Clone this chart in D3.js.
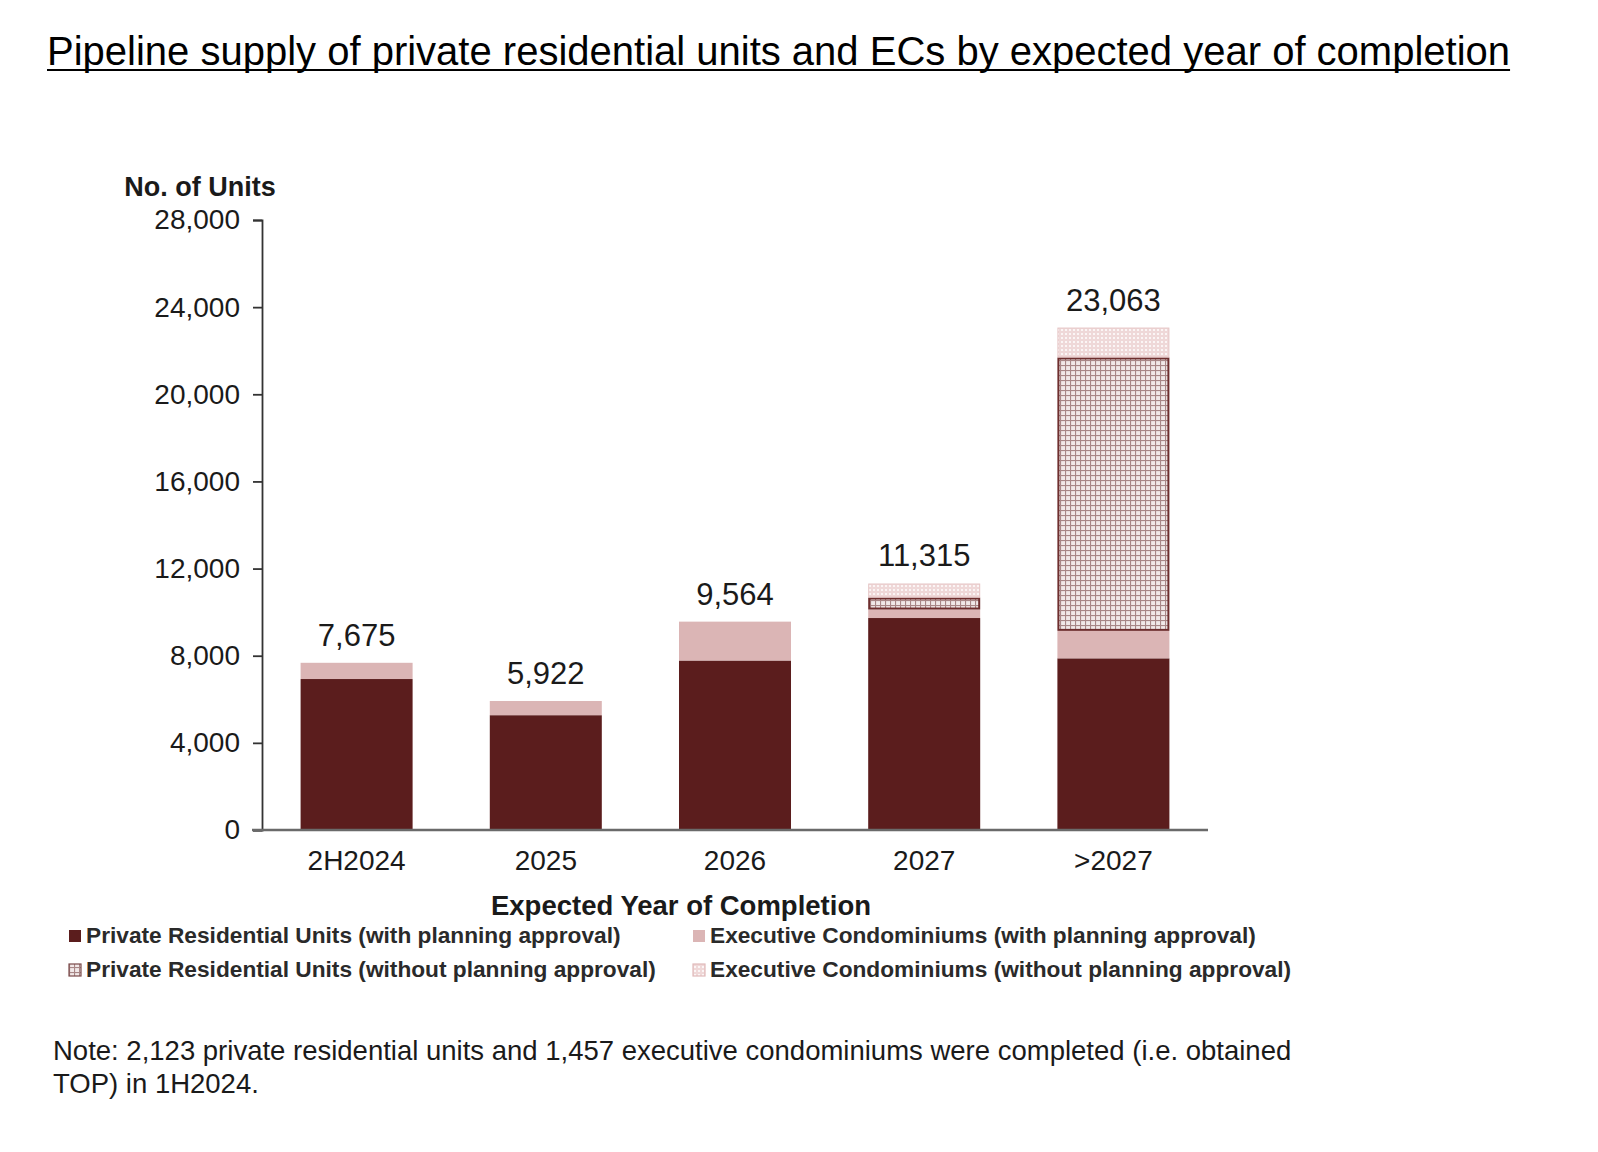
<!DOCTYPE html>
<html>
<head>
<meta charset="utf-8">
<script src="https://cdn.jsdelivr.net/npm/d3@7"></script>
<style>
  html, body { margin: 0; padding: 0; background: #ffffff; }
  svg { display: block; }
  text { font-family: "Liberation Sans", Arial, Helvetica, sans-serif; fill: #1a1a1a; }
</style>
</head>
<body>
<svg id="chart" width="1598" height="1152"></svg>
<script>
// ---- data ----
const categories = ["2H2024", "2025", "2026", "2027", ">2027"];
const privateWith = [6930, 5270, 7780, 9730, 7880];
const ecWith = [745, 652, 1784, 390, 1260];
const privateWithout = [0, 0, 0, 550, 12550];
const ecWithout = [0, 0, 0, 645, 1373];
const totals = [7675, 5922, 9564, 11315, 23063];
const yTicks = [0, 4000, 8000, 12000, 16000, 20000, 24000, 28000];
const seriesNames = [
  "Private Residential Units (with planning approval)",
  "Executive Condominiums (with planning approval)",
  "Private Residential Units (without planning approval)",
  "Executive Condominiums (without planning approval)"
];
const titleText = "Pipeline supply of private residential units and ECs by expected year of completion";
const yTitle = "No. of Units";
const xTitle = "Expected Year of Completion";
const noteLines = [
  "Note: 2,123 private residential units and 1,457 executive condominiums were completed (i.e. obtained",
  "TOP) in 1H2024."
];

// ---- setup ----
const svg = d3.select("#chart");
svg.append("rect").attr("width", 1598).attr("height", 1152).attr("fill", "#ffffff");

const defs = svg.append("defs");
// grid hatch for private units without planning approval
const p1 = defs.append("pattern").attr("id", "patPriv").attr("patternUnits", "userSpaceOnUse")
  .attr("width", 5).attr("height", 5);
p1.append("rect").attr("width", 5).attr("height", 5).attr("fill", "#f1e8e8");
p1.append("rect").attr("x", 0).attr("y", 0).attr("width", 1.1).attr("height", 5).attr("fill", "#a88686");
p1.append("rect").attr("x", 0).attr("y", 0).attr("width", 5).attr("height", 1.1).attr("fill", "#a88686");
// light dotted pattern for EC without planning approval
const p2 = defs.append("pattern").attr("id", "patEC").attr("patternUnits", "userSpaceOnUse")
  .attr("width", 4).attr("height", 4);
p2.append("rect").attr("width", 4).attr("height", 4).attr("fill", "#efd8d8");
p2.append("rect").attr("x", 1).attr("y", 1).attr("width", 2).attr("height", 2).attr("fill", "#fbf5f5");

const fills = ["#5b1d1d", "#dbb5b5", "url(#patPriv)", "url(#patEC)"];
const strokes = ["none", "none", "#6e2e2e", "#e6c6c6"];
const strokeW = [0, 0, 2, 1];

const x = d3.scaleBand().domain(categories).range([262, 1208]).paddingInner(0.408).paddingOuter(0.204);
const y = d3.scaleLinear().domain([0, 28000]).range([830, 220]);

// ---- title ----
const title = svg.append("text").attr("x", 47).attr("y", 65)
  .attr("font-size", 40).text(titleText).style("fill", "#000");
const tw = title.node().getComputedTextLength();
svg.append("line").attr("x1", 47).attr("x2", 47 + tw).attr("y1", 70).attr("y2", 70)
  .attr("stroke", "#000").attr("stroke-width", 2.2);

// ---- stacked bars ----
const rows = categories.map((c, i) => ({
  cat: c, privateWith: privateWith[i], ecWith: ecWith[i],
  privateWithout: privateWithout[i], ecWithout: ecWithout[i], total: totals[i]
}));
const keys = ["privateWith", "ecWith", "privateWithout", "ecWithout"];
const stacked = d3.stack().keys(keys)(rows);

stacked.forEach((layer, li) => {
  svg.append("g").selectAll("rect").data(layer.filter(d => d[1] - d[0] > 0)).join("rect")
    .attr("x", d => x(d.data.cat) + (strokeW[li] ? strokeW[li] / 2 : 0))
    .attr("y", d => y(d[1]) + (strokeW[li] ? strokeW[li] / 2 : 0))
    .attr("width", x.bandwidth() - strokeW[li])
    .attr("height", d => Math.max(0, y(d[0]) - y(d[1]) - strokeW[li]))
    .attr("fill", fills[li])
    .attr("stroke", strokes[li])
    .attr("stroke-width", strokeW[li]);
});

// ---- total labels ----
svg.append("g").selectAll("text").data(rows).join("text")
  .attr("x", d => x(d.cat) + x.bandwidth() / 2)
  .attr("y", d => y(d.total) - 17)
  .attr("text-anchor", "middle")
  .attr("font-size", 31)
  .text(d => d3.format(",")(d.total));

// ---- axes ----
const yAxis = d3.axisLeft(y).tickValues(yTicks).tickFormat(d3.format(",")).tickSize(9).tickPadding(13);
const gy = svg.append("g").attr("transform", "translate(262,0)").call(yAxis);
gy.select(".domain").attr("stroke", "#333").attr("stroke-width", 1.8);
gy.selectAll(".tick line").attr("stroke", "#333").attr("stroke-width", 1.8);
gy.selectAll(".tick text").attr("font-size", 28).attr("font-family", "Liberation Sans, Arial, sans-serif").style("fill", "#1a1a1a");

const xAxis = d3.axisBottom(x).tickSize(0).tickPadding(20);
const gx = svg.append("g").attr("transform", "translate(0,830)").call(xAxis);
gx.select(".domain").remove();
gx.append("line").attr("x1", 252).attr("x2", 1208).attr("y1", 0).attr("y2", 0)
  .attr("stroke", "#6a6a6a").attr("stroke-width", 2.5);
gx.selectAll(".tick text").attr("font-size", 28).attr("font-family", "Liberation Sans, Arial, sans-serif").style("fill", "#1a1a1a");

// axis titles
svg.append("text").attr("x", 200).attr("y", 196).attr("text-anchor", "middle")
  .attr("font-size", 27).attr("font-weight", "bold").text(yTitle);
svg.append("text").attr("x", 681).attr("y", 915).attr("text-anchor", "middle")
  .attr("font-size", 27.5).attr("font-weight", "bold").text(xTitle);

// ---- legend ----
const legendPos = [
  { x: 69, y: 943 }, { x: 693, y: 943 },
  { x: 69, y: 977 }, { x: 693, y: 977 }
];
const lg = svg.append("g").selectAll("g").data(seriesNames).join("g")
  .attr("transform", (d, i) => `translate(${legendPos[i].x},${legendPos[i].y})`);
lg.append("rect").attr("x", 0).attr("y", -13).attr("width", 12).attr("height", 12)
  .attr("fill", (d, i) => fills[i])
  .attr("stroke", (d, i) => i === 2 ? "#7a4a4a" : (i === 3 ? "#e0baba" : "none"))
  .attr("stroke-width", 1.2);
lg.append("text").attr("x", 17).attr("y", 0).attr("font-size", 22.7).attr("font-weight", "bold")
  .style("fill", "#2a2a2a").text(d => d);

// ---- note ----
svg.append("g").selectAll("text").data(noteLines).join("text")
  .attr("x", 53).attr("y", (d, i) => 1060 + i * 32.5)
  .attr("font-size", 27.5).text(d => d);
</script>
</body>
</html>
